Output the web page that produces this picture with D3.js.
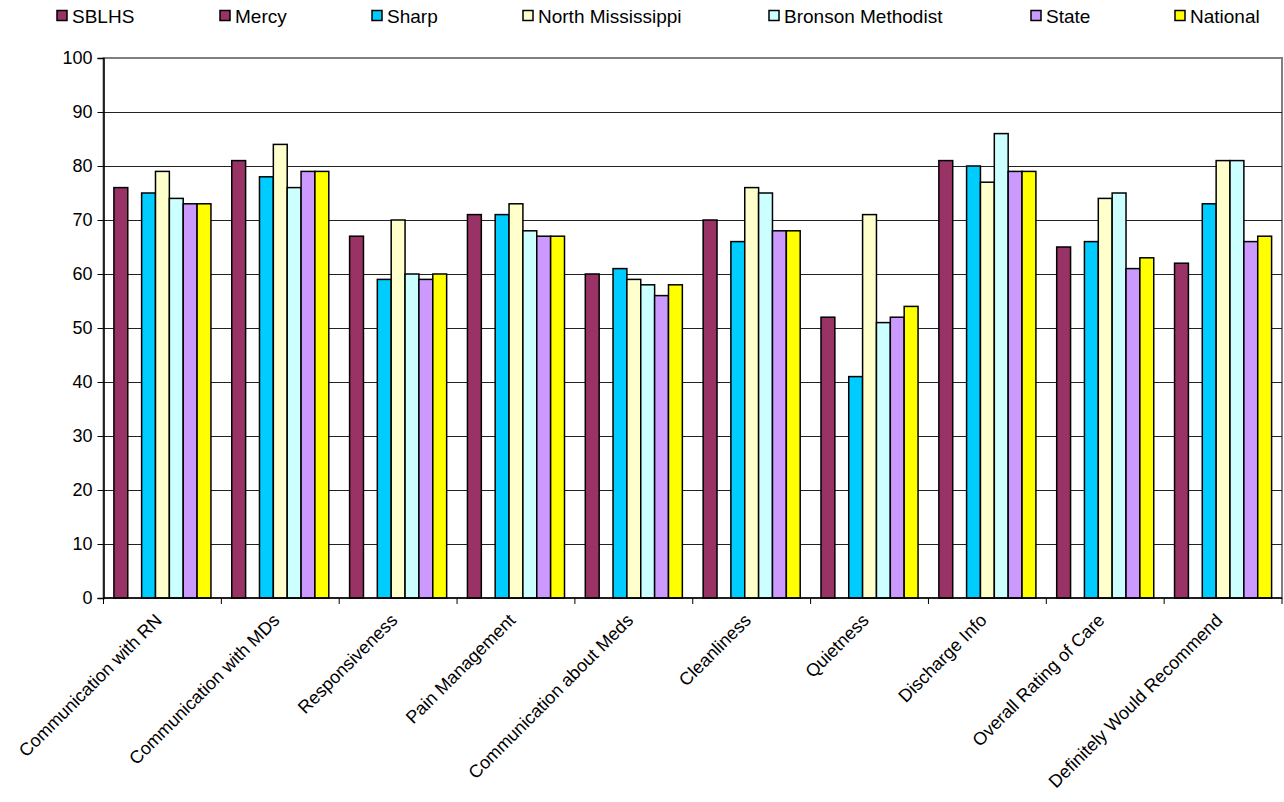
<!DOCTYPE html>
<html>
<head>
<meta charset="utf-8">
<script src="https://cdn.jsdelivr.net/npm/d3@7"></script>
<style>
  html, body { margin: 0; padding: 0; background: #fff; }
  svg { display: block; }
  text { font-family: "Liberation Sans", Arial, sans-serif; fill: #000; }
</style>
</head>
<body>
<svg id="chart" width="1284" height="802"></svg>
<script>
const categories = ["Communication with RN", "Communication with MDs", "Responsiveness", "Pain Management",
  "Communication about Meds", "Cleanliness", "Quietness", "Discharge Info", "Overall Rating of Care",
  "Definitely Would Recommend"];
const seriesNames = ["SBLHS", "Mercy", "Sharp", "North Mississippi", "Bronson Methodist", "State", "National"];
const seriesColors = ["#993366", "#993366", "#00CCFF", "#FFFFCC", "#CCFFFF", "#CC99FF", "#FFFF00"];
const sblhs    = [76, 81, 67, 71, 60, 70, 52, 81, 65, 62];
const mercy    = [null, null, null, null, null, null, null, null, null, null];
const sharp    = [75, 78, 59, 71, 61, 66, 41, 80, 66, 73];
const northMS  = [79, 84, 70, 73, 59, 76, 71, 77, 74, 81];
const bronson  = [74, 76, 60, 68, 58, 75, 51, 86, 75, 81];
const state    = [73, 79, 59, 67, 56, 68, 52, 79, 61, 66];
const national = [73, 79, 60, 67, 58, 68, 54, 79, 63, 67];
const yTicks = [0, 10, 20, 30, 40, 50, 60, 70, 80, 90, 100];

const seriesValues = [sblhs, mercy, sharp, northMS, bronson, state, national];

const svg = d3.select("#chart");
const plot = { left: 103.5, right: 1282, top: 58, bottom: 598 };

const y = d3.scaleLinear().domain([0, 100]).range([plot.bottom, plot.top]);
const x0 = d3.scaleBand().domain(categories).range([plot.left, plot.right]).padding(0);
const catW = x0.bandwidth();
const barW = catW / 8.5;
const x1 = d3.scaleBand().domain(seriesNames).range([barW * 0.75, catW - barW * 0.75]).padding(0);

// plot area border
svg.append("rect")
  .attr("x", plot.left).attr("y", plot.top)
  .attr("width", plot.right - plot.left).attr("height", plot.bottom - plot.top)
  .attr("fill", "#fff").attr("stroke", "#808080").attr("stroke-width", 2);

// gridlines
svg.append("g").selectAll("line").data(yTicks.filter(d => d > 0 && d < 100)).join("line")
  .attr("x1", plot.left).attr("x2", plot.right)
  .attr("y1", d => Math.round(y(d)) + 0.5).attr("y2", d => Math.round(y(d)) + 0.5)
  .attr("stroke", "#222").attr("stroke-width", 1);

// bars
const groups = svg.append("g").selectAll("g").data(categories).join("g")
  .attr("transform", d => `translate(${x0(d)},0)`);
groups.selectAll("rect")
  .data((c, i) => seriesNames.map((s, j) => ({ s, j, v: seriesValues[j][i] })).filter(d => d.v != null))
  .join("rect")
  .attr("x", d => x1(d.s))
  .attr("y", d => y(d.v))
  .attr("width", x1.bandwidth())
  .attr("height", d => y(0) - y(d.v))
  .attr("fill", d => seriesColors[d.j])
  .attr("stroke", "#000").attr("stroke-width", 1.5);

// y axis
const yAxis = d3.axisLeft(y).tickValues(yTicks).tickSize(6).tickPadding(5).tickFormat(d3.format("d"));
const gy = svg.append("g").attr("transform", `translate(${plot.left},0)`).call(yAxis);
gy.select(".domain").attr("stroke", "#000").attr("stroke-width", 1.5);
gy.selectAll(".tick line").attr("stroke", "#000");
gy.selectAll(".tick text").attr("font-size", 18).attr("font-family", "Liberation Sans, Arial, sans-serif");

// x axis
const gx = svg.append("g").attr("transform", `translate(0,${plot.bottom})`);
gx.append("line").attr("x1", plot.left).attr("x2", plot.right).attr("y1", 0).attr("y2", 0)
  .attr("stroke", "#000").attr("stroke-width", 1.5);
const boundaries = categories.map(c => x0(c)).concat([plot.right]);
gx.selectAll("line.tk").data(boundaries).join("line").attr("class", "tk")
  .attr("x1", d => d).attr("x2", d => d).attr("y1", 0).attr("y2", 6)
  .attr("stroke", "#000");
gx.selectAll("text").data(categories).join("text")
  .attr("text-anchor", "end")
  .attr("font-size", 18)
  .attr("transform", d => `translate(${x0(d) + catW / 2 - 4},${19}) rotate(-45)`)
  .attr("dy", "0.35em")
  .text(d => d);

// legend
const legendX = [57, 220, 372, 523, 769, 1031, 1175];
const lg = svg.append("g").selectAll("g").data(seriesNames).join("g")
  .attr("transform", (d, i) => `translate(${legendX[i]},16)`);
lg.append("rect").attr("x", 0).attr("y", -5.5).attr("width", 10).attr("height", 10)
  .attr("fill", (d, i) => seriesColors[i]).attr("stroke", "#000").attr("stroke-width", 1.5);
lg.append("text").attr("x", 15).attr("y", 0).attr("dy", "0.35em").attr("font-size", 19).text(d => d);
</script>
</body>
</html>
